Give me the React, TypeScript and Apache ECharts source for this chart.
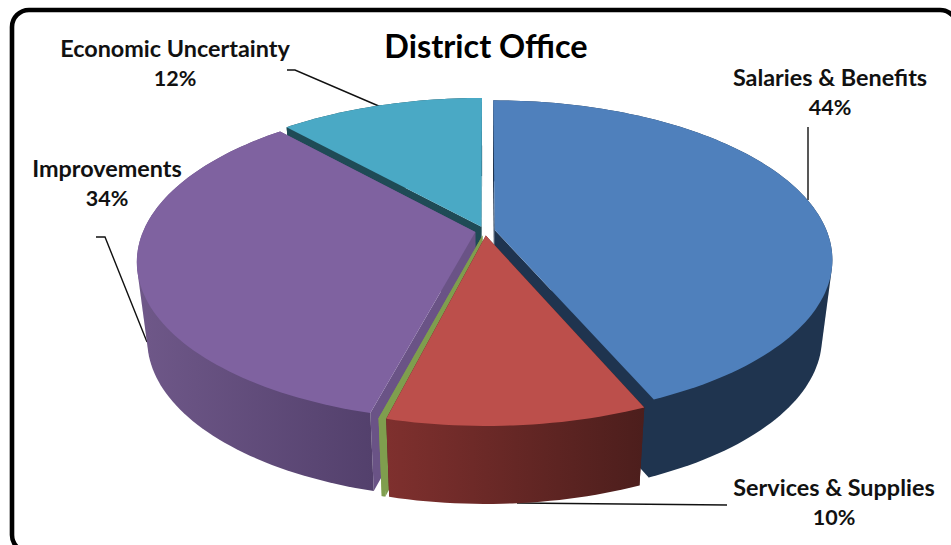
import React, { useEffect, useRef } from "react";
import * as echarts from "echarts";

const titleText = "District Office";
const categories = ["Salaries & Benefits", "Services & Supplies", "Other", "Improvements", "Economic Uncertainty"];
const values = [43.55, 10.4, 0.15, 34.2, 11.7];
const showLabel = [true, true, false, true, true];
const topColors = ["#4F80BC", "#BC4F4B", "#7F9E4E", "#7F62A0", "#4AA9C5"];
const wallLeft = ["#1F344F", "#7F302E", "#7F9E4E", "#6F5889", "#1F4B56"];
const wallRight = ["#1F344F", "#4C1E1C", "#7F9E4E", "#53406C", "#1F4B56"];
const innerWall = ["#1F344F", "#4C1E1C", "#7F9E4E", "#6A5386", "#1F4B56"];
const drawOrder = [4, 3, 0, 2, 1];

const labelPos: Record<number, [number, number]> = {
  0: [830, 92],
  1: [834, 502],
  3: [107, 183],
  4: [175, 63],
};
const leaderLines: number[][][] = [
  [[808, 127], [808, 200]],
  [[727, 505], [517, 503]],
  [[96, 237], [105, 237], [147, 342]],
  [[287, 70], [295, 70], [381, 107]],
];

const CX = 485, CY = 231, RX = 332, RY = 153.7, K = 0.1826, EXPLODE = 0.03;
const DEPTH = 78, BOTTOM_SCALE = 0.97;

function project(X: number, Y: number): number[] {
  const w = 1 + K * Y;
  return [CX + (RX * X) / w, CY - (RY * Y) / w];
}
function lower(p: number[]): number[] {
  return [CX + (p[0] - CX) * BOTTOM_SCALE, p[1] + DEPTH];
}
function hull(points: number[][]): number[][] {
  const pts = points.slice().sort((a, b) => a[0] - b[0] || a[1] - b[1]);
  const cross = (o: number[], a: number[], b: number[]) =>
    (a[0] - o[0]) * (b[1] - o[1]) - (a[1] - o[1]) * (b[0] - o[0]);
  const lo: number[][] = [];
  for (const p of pts) {
    while (lo.length >= 2 && cross(lo[lo.length - 2], lo[lo.length - 1], p) <= 0) lo.pop();
    lo.push(p);
  }
  const up: number[][] = [];
  for (let i = pts.length - 1; i >= 0; i--) {
    const p = pts[i];
    while (up.length >= 2 && cross(up[up.length - 2], up[up.length - 1], p) <= 0) up.pop();
    up.push(p);
  }
  lo.pop();
  up.pop();
  return lo.concat(up);
}

const total = values.reduce((a, b) => a + b, 0);
const starts: number[] = [];
values.reduce((acc, v, i) => {
  starts[i] = acc;
  return acc + v;
}, 0);

function renderSlice(_params: any, api: any) {
  const i = api.value(0);
  const a0 = (api.value(1) / total) * Math.PI * 2;
  const a1 = ((api.value(1) + api.value(2)) / total) * Math.PI * 2;
  const mid = (a0 + a1) / 2;
  const ox = EXPLODE * Math.sin(mid);
  const oy = EXPLODE * Math.cos(mid);
  const apex = project(ox, oy);
  const rim: number[][] = [];
  const steps = Math.max(4, Math.ceil((a1 - a0) * 40));
  for (let s = 0; s <= steps; s++) {
    const t = a0 + ((a1 - a0) * s) / steps;
    rim.push(project(ox + Math.sin(t), oy + Math.cos(t)));
  }
  const rimLow = rim.map(lower);
  const apexLow = lower(apex);
  const first = rim[0];
  const last = rim[rim.length - 1];
  const inner = innerWall[i];
  const children: any[] = [
    {
      type: "polygon",
      shape: { points: [apex, first, lower(first), apexLow] },
      style: { fill: inner },
    },
    {
      type: "polygon",
      shape: { points: [apex, last, lower(last), apexLow] },
      style: { fill: inner },
    },
    {
      type: "polygon",
      shape: { points: hull(rim.concat(rimLow)) },
      style: {
        fill: new echarts.graphic.LinearGradient(0, 0, 1, 0, [
          { offset: 0, color: wallLeft[i] },
          { offset: 1, color: wallRight[i] },
        ]),
      },
    },
    {
      type: "polygon",
      shape: { points: [apex].concat(rim) },
      style: { fill: topColors[i] },
    },
  ];
  return { type: "group", children };
}

export default function App() {
  const ref = useRef<HTMLDivElement>(null);
  useEffect(() => {
    document.body.style.margin = "0";
    const chart = echarts.init(ref.current!, null, { renderer: "svg" });
    const textStyle = {
      fontFamily: "Lato",
      fontWeight: "bold" as const,
      fill: "#111111",
      align: "center" as const,
      verticalAlign: "middle" as const,
    };
    chart.setOption({
      animation: false,
      backgroundColor: "#ffffff",
      title: {
        text: titleText,
        left: 481,
        top: 24,
        textAlign: "center",
        textStyle: { fontFamily: "Lato", fontWeight: "bold", fontSize: 32.4, color: "#000000" },
      },
      series: [
        {
          type: "custom",
          coordinateSystem: "none",
          silent: true,
          clip: false,
          renderItem: renderSlice,
          data: drawOrder.map((i) => [i, starts[i], values[i]]),
        },
      ],
      graphic: [
        {
          type: "rect",
          shape: { x: 12, y: 10, width: 945, height: 542, r: 17 },
          style: { fill: "none", stroke: "#000000", lineWidth: 4.6 },
          silent: true,
        },
        ...leaderLines.map((pts) => ({
          type: "polyline",
          shape: { points: pts },
          style: { stroke: "#111111", lineWidth: 1.4, fill: "none" },
          silent: true,
        })),
        ...categories.flatMap((c, i) =>
          showLabel[i]
            ? [
                {
                  type: "text",
                  x: labelPos[i][0],
                  y: labelPos[i][1] - 15,
                  style: { ...textStyle, text: c, fontSize: 23.4 },
                  silent: true,
                },
                {
                  type: "text",
                  x: labelPos[i][0],
                  y: labelPos[i][1] + 15,
                  style: { ...textStyle, text: `${Math.round(values[i])}%`, fontSize: 21.5 },
                  silent: true,
                },
              ]
            : []
        ),
      ],
    });
    return () => chart.dispose();
  }, []);
  return (
    <div
      ref={ref}
      style={{ position: "absolute", left: 0, top: 0, width: 951, height: 545, overflow: "hidden" }}
    />
  );
}
